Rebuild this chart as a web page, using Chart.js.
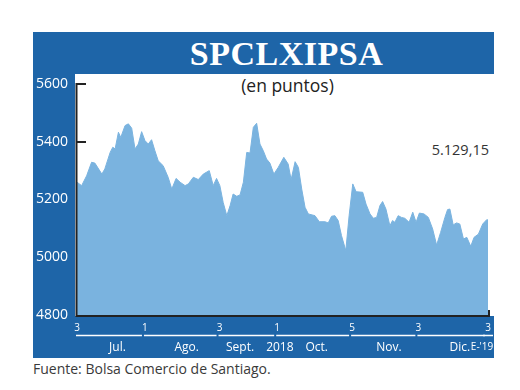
<!DOCTYPE html>
<html>
<head>
<meta charset="utf-8">
<script src="https://cdn.jsdelivr.net/npm/chart.js@4.4.0/dist/chart.umd.min.js"></script>
<style>
    body { margin: 0; width: 520px; height: 390px; overflow: hidden; position: relative; background: #fff; font-family: "Open Sans", "Noto Sans", sans-serif; }
    #frame { position: absolute; left: 33px; top: 32px; width: 461px; height: 326px; background: #1e65a8; }
    #plotbg { position: absolute; left: 75px; top: 74px; width: 445px; height: 242px; background: #fff; }
    #title { position: absolute; left: 90px; width: 393px; top: 33px; height: 41px; line-height: 41px; text-align: center; color: #fff;
             font-family: "Liberation Serif", serif; font-weight: bold; font-size: 34px; letter-spacing: 0.5px; }
    #unit { position: absolute; left: 200px; width: 175px; top: 73px; text-align: center; color: #222; font-size: 17.5px; }
    #last { position: absolute; left: 400px; width: 89px; top: 140px; text-align: right; color: #333; font-size: 14.5px; }
    #source { position: absolute; left: 33px; top: 359px; color: #3a3a3a; font-size: 14px; }
    canvas { position: absolute; left: 0; top: 0; }
</style>
</head>
<body>
<div id="frame"></div>
<div id="plotbg"></div>
<div id="title">SPCLXIPSA</div>
<div id="unit">(en puntos)</div>
<div id="last">5.129,15</div>
<div id="source">Fuente: Bolsa Comercio de Santiago.</div>
<canvas id="ipsaChart" width="520" height="390"></canvas>
<script>
// session position (0 = 3 jul 2018, 124 = 3 ene 2019) and closing value
const sessions = [0, 1.4, 2.9, 4.4, 5.4, 7.5, 8.4, 10, 10.8, 11.5, 12.5, 13.2, 14.5, 15.5, 16.5, 17.5, 18.5, 19.5, 20.5, 21.5,
    22.5, 23.5, 24.5, 26, 27.5, 28.6, 29.9, 31.1, 32.6, 33.6, 35.1, 36.6, 38.1, 39.9, 41.1, 42.1, 43.1,
    44.1, 45.2, 46.2, 47.1, 48.2, 49.2, 50.2, 51.2, 52.2, 53.2, 54.2, 55.2, 56.2, 57.2, 58.2, 59.4, 60.7, 62.4, 63.7, 64.6,
    65.8, 66.8, 67.8, 68.8, 69.8, 71.8, 73.1, 74.8, 75.8, 76.8, 77.8, 78.8, 79.8, 81.1, 82.1, 83.2, 84.2,
    86.2, 87.2, 88.4, 89.4, 90.4, 91.4, 92.2, 93.2, 94.4, 95.2, 95.9, 96.9, 97.9, 98.9, 100.2, 101.3, 102.3, 103.3, 104.7,
    106, 107.3, 108.5, 109.7, 111, 111.8, 112.5, 113.5, 114.5, 115.5, 116.6, 117.6, 118.8, 119.8, 121.1, 122.4, 123.6, 124];
const ipsa = [5260, 5248, 5282, 5329, 5326, 5288, 5306, 5363, 5381, 5375, 5433, 5415, 5456, 5462, 5447, 5375, 5392, 5435, 5404, 5392,
    5407, 5369, 5334, 5317, 5277, 5236, 5273, 5260, 5248, 5254, 5277, 5269, 5288, 5300, 5248, 5273, 5248,
    5190, 5144, 5179, 5219, 5211, 5216, 5260, 5363, 5361, 5450, 5464, 5392, 5369, 5340, 5326, 5288, 5311, 5346, 5323, 5269,
    5331, 5311, 5236, 5173, 5150, 5144, 5123, 5123, 5119, 5142, 5144, 5127, 5075, 5023, 5144, 5254, 5227,
    5225, 5184, 5150, 5135, 5138, 5179, 5193, 5167, 5109, 5127, 5121, 5144, 5138, 5135, 5121, 5156, 5121, 5153, 5150,
    5138, 5098, 5042, 5086, 5138, 5165, 5167, 5112, 5119, 5115, 5063, 5069, 5038, 5069, 5080, 5115, 5130, 5129.15];

// day-of-month ticks on the x axis
const tickAt = [0, 20.5, 43, 60.4, 83, 103, 124];
const tickText = ['3', '1', '3', '1', '5', '3', '3'];
// month names under the ticks
const months = ['Jul.', 'Ago.', 'Sept.', '2018', 'Oct.', 'Nov.', 'Dic.', "E-'19"];
const monthAt = [12.2, 33.1, 49.2, 61.2, 72.3, 94.1, 115.5, 122.2];

const axisLines = {
    id: 'axisLines',
    beforeDatasetsDraw(chart) {
        // short inward ticks, partly hidden by the area
        const ctx = chart.ctx, y = chart.scales.y, a = chart.chartArea;
        ctx.save();
        ctx.strokeStyle = '#222';
        ctx.lineWidth = 2;
        y.ticks.forEach(t => {
            const py = Math.round(y.getPixelForValue(t.value));
            ctx.beginPath();
            ctx.moveTo(a.left, py);
            ctx.lineTo(a.left + 9, py);
            ctx.stroke();
        });
        ctx.restore();
    },
    afterDatasetsDraw(chart) {
        const ctx = chart.ctx, x = chart.scales.x, a = chart.chartArea;
        ctx.save();
        ctx.strokeStyle = '#222';
        ctx.lineWidth = 2;
        ctx.beginPath();
        ctx.moveTo(a.left - 0.5, a.top - 1);
        ctx.lineTo(a.left - 0.5, a.bottom + 1);
        ctx.lineTo(a.right + 2, a.bottom + 1);
        ctx.moveTo(a.right + 1, a.bottom - 5);
        ctx.lineTo(a.right + 1, a.bottom + 1);
        ctx.stroke();

        // white rules between the day ticks
        ctx.strokeStyle = '#fff';
        ctx.lineWidth = 1.5;
        for (let i = 0; i < tickAt.length; i++) {
            const x0 = x.getPixelForValue(tickAt[i]) - (i < tickAt.length - 1 ? 1 : 5);
            const x1 = i < tickAt.length - 1 ? x.getPixelForValue(tickAt[i + 1]) - 3 : x0 + 10;
            ctx.beginPath();
            ctx.moveTo(x0, 335.5);
            ctx.lineTo(x1, 335.5);
            ctx.stroke();
        }

        ctx.fillStyle = '#fff';
        ctx.textAlign = 'center';
        ctx.textBaseline = 'middle';
        months.forEach((m, i) => {
            ctx.font = i === months.length - 1 ? '10px "Open Sans"' : '12px "Open Sans"';
            ctx.fillText(m, x.getPixelForValue(monthAt[i]), 347.5);
        });
        ctx.restore();
    }
};

const ctx = document.getElementById('ipsaChart').getContext('2d');
new Chart(ctx, {
    type: 'line',
    data: {
        datasets: [{
            label: 'SPCLXIPSA',
            data: sessions.map((s, i) => ({ x: s, y: ipsa[i] })),
            fill: 'start',
            backgroundColor: '#7ab3df',
            borderColor: '#7ab3df',
            borderWidth: 1,
            pointRadius: 0,
            tension: 0
        }]
    },
    options: {
        responsive: false,
        animation: false,
        layout: { padding: { left: 0, top: 84, right: 32, bottom: 0 } },
        plugins: { legend: { display: false }, tooltip: { enabled: false } },
        scales: {
            x: {
                type: 'linear',
                min: 0,
                max: 124,
                grid: { display: false, drawTicks: false },
                border: { display: false },
                afterBuildTicks: s => { s.ticks = tickAt.map(v => ({ value: v })); },
                afterFit: s => { s.height = 75; },
                ticks: {
                    autoSkip: false,
                    maxRotation: 0,
                    padding: 7,
                    color: '#fff',
                    font: { family: 'Open Sans', size: 10 },
                    callback: (v, i) => tickText[i]
                }
            },
            y: {
                min: 4800,
                max: 5600,
                grid: { display: false, drawTicks: false },
                border: { display: false },
                afterFit: s => { s.width = 77; },
                ticks: {
                    stepSize: 200,
                    padding: 9,
                    color: '#fff',
                    font: { family: 'Open Sans', size: 14 },
                    callback: v => String(v)
                }
            }
        }
    },
    plugins: [axisLines]
});
</script>
</body>
</html>
